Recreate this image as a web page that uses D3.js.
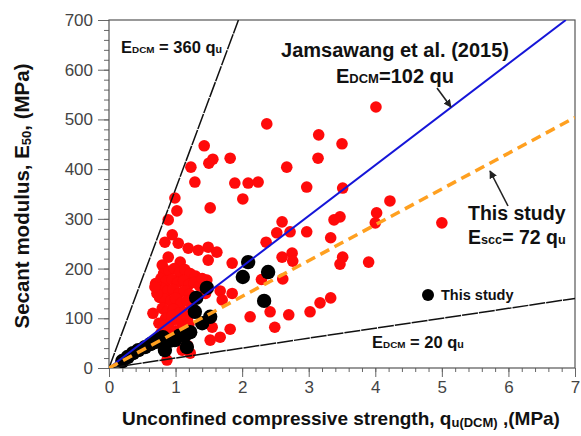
<!DOCTYPE html>
<html>
<head>
<meta charset="utf-8">
<script src="https://cdn.jsdelivr.net/npm/d3@7"></script>
<style>
  body { margin: 0; background: #fff; }
  svg { display: block; font-family: Arial, "Liberation Sans", sans-serif; }
</style>
</head>
<body>
<div id="chart"></div>
<script>
// ---- data ----
const xTicks = [0, 1, 2, 3, 4, 5, 6, 7];
const yTicks = [0, 100, 200, 300, 400, 500, 600, 700];

// E = k * qu relations drawn on the chart
const slopeUpper = 360;   // E_DCM = 360 qu
const slopeJams = 102;    // Jamsawang et al. (2015)
const slopeStudy = 72;    // this study
const slopeLower = 20;    // E_DCM = 20 qu

// literature data [qu (MPa), E50 (MPa)]
const redPoints = [
  [4.01, 525], [2.37, 491], [3.15, 469], [3.5, 451], [1.43, 447], [1.82, 422], [1.56, 420],
  [3.14, 422], [1.50, 412], [1.23, 404], [2.67, 404], [1.29, 374], [1.89, 372], [2.09, 372],
  [2.24, 374], [2.97, 364], [3.51, 362], [0.99, 342], [2.01, 340], [4.22, 336], [1.52, 322],
  [1.02, 316], [4.02, 312], [3.47, 304], [0.89, 298], [3.38, 298], [2.6, 294], [4.0, 292],
  [5.0, 292], [2.72, 274], [2.97, 274], [2.52, 272], [0.95, 268], [3.33, 262], [0.84, 253],
  [2.36, 253], [1.04, 251], [1.49, 243], [1.19, 241], [1.34, 237], [1.62, 233], [2.75, 231],
  [0.89, 223], [2.6, 223], [3.51, 223], [1.49, 217], [2.76, 215], [1.07, 213], [3.9, 213],
  [1.85, 211], [3.47, 209], [0.80, 207], [2.61, 179], [2.29, 178], [1.47, 177], [1.67, 155],
  [1.85, 150], [1.7, 137], [3.33, 141], [3.17, 131], [2.42, 113], [3.02, 113], [2.7, 107],
  [2.12, 103], [2.49, 82], [1.82, 78], [1.55, 82], [1.67, 62], [1.52, 56], [1.10, 36],
  [0.87, 16], [1.18, 45], [1.22, 30],
  // dense cluster around qu ~ 1 MPa
  [0.82, 190], [0.9, 195], [0.98, 200], [1.06, 192], [1.14, 198], [1.22, 190], [1.3, 185],
  [0.78, 180], [0.86, 175], [0.95, 178], [1.03, 172], [1.12, 176], [1.2, 168], [1.28, 172],
  [1.36, 165], [0.8, 160], [0.88, 155], [0.96, 158], [1.05, 150], [1.13, 155], [1.21, 148],
  [0.76, 142], [0.84, 138], [0.93, 135], [1.0, 140], [1.08, 130], [1.17, 135], [0.8, 120],
  [0.88, 115], [0.97, 118], [1.05, 110], [1.14, 112], [1.24, 120], [0.85, 100], [0.94, 95],
  [1.02, 98], [1.1, 92], [0.9, 80], [1.0, 75], [1.18, 100], [0.7, 170], [0.72, 150],
  [1.4, 180], [1.45, 150], [1.0, 60], [0.69, 163], [0.66, 110], [0.75, 90],
  [0.82, 85], [1.08, 78], [1.2, 88], [0.95, 105], [0.78, 70], [1.12, 62]
];

// this study [qu (MPa), E50 (MPa)]
const blackPoints = [
  [0.2, 14], [0.28, 22], [0.36, 30], [0.44, 36], [0.54, 42], [0.62, 48], [0.69, 52],
  [0.75, 58], [0.81, 62], [0.84, 36], [0.92, 55], [0.99, 56], [1.06, 65], [1.14, 66],
  [1.17, 42], [1.22, 72], [1.4, 90], [1.52, 103], [1.29, 113], [1.31, 141], [1.47, 161],
  [2.01, 183], [2.09, 213], [2.39, 193], [2.33, 135]
];

// ---- layout ----
const width = 581, height = 436;
const x = d3.scaleLinear().domain([0, 7]).range([109, 575]);
const y = d3.scaleLinear().domain([0, 700]).range([368, 20]);

const svg = d3.select('#chart').append('svg')
  .attr('width', width).attr('height', height);

const defs = svg.append('defs');
defs.append('clipPath').attr('id', 'plot-clip')
  .append('rect')
  .attr('x', x(0)).attr('y', y(700))
  .attr('width', x(7) - x(0)).attr('height', y(0) - y(700));
defs.append('marker')
  .attr('id', 'arrow')
  .attr('viewBox', '0 0 10 10')
  .attr('refX', 9).attr('refY', 5)
  .attr('markerWidth', 8).attr('markerHeight', 8)
  .attr('markerUnits', 'userSpaceOnUse')
  .attr('orient', 'auto')
  .append('path').attr('d', 'M0,0 L10,5 L0,10 Z').attr('fill', '#222');

// axes (major + minor)
function styleAxis(g) {
  g.select('.domain').remove();
  g.selectAll('.tick line').attr('stroke', '#666');
  g.selectAll('.tick text')
    .attr('fill', '#444')
    .style('font-size', '17px')
    .style('font-family', 'Arial, "Liberation Sans", sans-serif');
}

svg.append('g')
  .attr('transform', `translate(${x(0)},0)`)
  .call(d3.axisLeft(y).tickValues(d3.range(0, 701, 20)).tickSize(5).tickFormat(''))
  .call(styleAxis);
svg.append('g')
  .attr('transform', `translate(${x(0)},0)`)
  .call(d3.axisLeft(y).tickValues(yTicks).tickSize(11).tickPadding(5).tickFormat(d3.format('d')))
  .call(styleAxis);

svg.append('g')
  .attr('transform', `translate(0,${y(0)})`)
  .call(d3.axisBottom(x).tickValues(d3.range(0, 7.01, 0.2)).tickSize(4).tickFormat(''))
  .call(styleAxis);
svg.append('g')
  .attr('transform', `translate(0,${y(0)})`)
  .call(d3.axisBottom(x).tickValues(xTicks).tickSize(9).tickPadding(4).tickFormat(d3.format('d')))
  .call(styleAxis);

// frame
svg.append('rect')
  .attr('x', x(0)).attr('y', y(700))
  .attr('width', x(7) - x(0)).attr('height', y(0) - y(700))
  .attr('fill', 'none').attr('stroke', '#555').attr('stroke-width', 1.2);

// points
const plot = svg.append('g').attr('clip-path', 'url(#plot-clip)');

plot.append('g').selectAll('circle')
  .data(redPoints).join('circle')
  .attr('cx', d => x(d[0])).attr('cy', d => y(d[1]))
  .attr('r', 5.8).attr('fill', '#ff0a0a');

plot.append('g').selectAll('circle')
  .data(blackPoints).join('circle')
  .attr('cx', d => x(d[0])).attr('cy', d => y(d[1]))
  .attr('r', 7.2).attr('fill', '#000');

// E = k qu lines
function relation(k) {
  const q = Math.min(7, 700 / k);
  return [[0, 0], [q, k * q]];
}
const line = d3.line().x(d => x(d[0])).y(d => y(d[1]));

plot.append('path').attr('d', line(relation(slopeUpper)))
  .attr('stroke', '#111').attr('stroke-width', 1.5).attr('stroke-dasharray', '16,1').attr('fill', 'none');
plot.append('path').attr('d', line(relation(slopeLower)))
  .attr('stroke', '#111').attr('stroke-width', 1.5).attr('stroke-dasharray', '16,1').attr('fill', 'none');
plot.append('path').attr('d', line(relation(slopeJams)))
  .attr('stroke', '#1515d8').attr('stroke-width', 2).attr('fill', 'none');
plot.append('path').attr('d', line(relation(slopeStudy)))
  .attr('stroke', '#ffa020').attr('stroke-width', 3.5).attr('stroke-dasharray', '10,6').attr('fill', 'none');

// annotations
function label(xp, yp, parts, size, anchor) {
  const t = svg.append('text')
    .attr('x', xp).attr('y', yp)
    .attr('text-anchor', anchor || 'start')
    .attr('font-weight', 'bold')
    .attr('fill', '#111')
    .style('font-size', size + 'px');
  parts.forEach(p => {
    const s = t.append('tspan').text(p[0]);
    if (p[1]) s.style('font-size', (size * p[1]) + 'px');
  });
  return t;
}

label(121, 53, [['E'], ['DCM', 0.6], [' = 360 q'], ['u', 0.65]], 16.5);
label(395, 57, [['Jamsawang et al. (2015)']], 20, 'middle');
label(395, 83, [['E'], ['DCM', 0.65], ['=102 qu']], 20, 'middle');
label(468, 220, [['This study']], 19.5);
label(468, 244, [['E'], ['scc', 0.65], ['= 72 q'], ['u', 0.65]], 19.5);
label(372, 348, [['E'], ['DCM', 0.6], [' = 20 q'], ['u', 0.65]], 16.5);

svg.append('line').attr('x1', 437).attr('y1', 88).attr('x2', 451).attr('y2', 107)
  .attr('stroke', '#222').attr('stroke-width', 1.6).attr('marker-end', 'url(#arrow)');
svg.append('line').attr('x1', 508).attr('y1', 206).attr('x2', 490).attr('y2', 171)
  .attr('stroke', '#222').attr('stroke-width', 1.6).attr('marker-end', 'url(#arrow)');

// legend
svg.append('circle').attr('cx', 428).attr('cy', 295).attr('r', 6).attr('fill', '#000');
label(441, 300, [['This study']], 14.5);

// axis titles
const xt = svg.append('text')
  .attr('x', 341).attr('y', 425).attr('text-anchor', 'middle')
  .attr('font-weight', 'bold').attr('fill', '#111').style('font-size', '19px');
xt.append('tspan').text('Unconfined compressive strength, q');
xt.append('tspan').text('u(DCM)').style('font-size', '13px').attr('dy', 2);
xt.append('tspan').text(' ,(MPa)').attr('dy', -2);

const yt = svg.append('text')
  .attr('transform', 'translate(29,196) rotate(-90)')
  .attr('text-anchor', 'middle')
  .attr('font-weight', 'bold').attr('fill', '#111').style('font-size', '20.5px');
yt.append('tspan').text('Secant modulus, E');
yt.append('tspan').text('50').style('font-size', '13px').attr('dy', 2);
yt.append('tspan').text(', (MPa)').attr('dy', -2);
</script>
</body>
</html>
